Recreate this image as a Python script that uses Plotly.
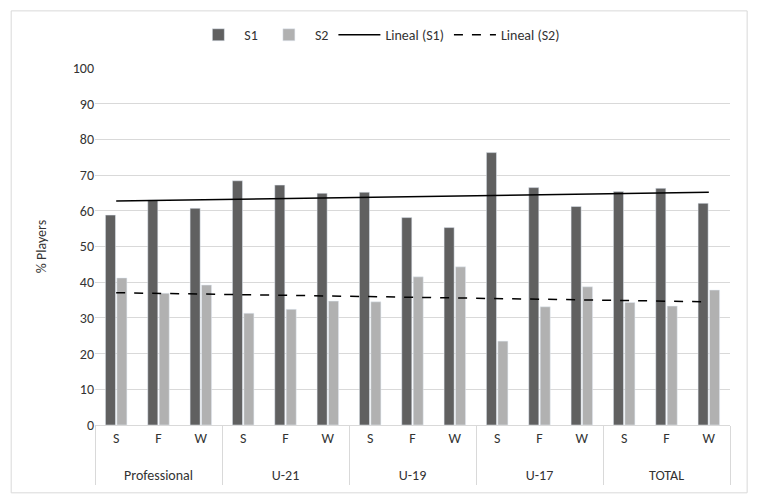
import numpy as np
import plotly.graph_objects as go

groups = ["Professional", "U-21", "U-19", "U-17", "TOTAL"]
subcats = ["S", "F", "W"]
s1 = [58.8, 63.0, 60.7, 68.4, 67.2, 64.9, 65.2, 58.1, 55.3, 76.3, 66.5, 61.2, 65.4, 66.3, 62.1]
s2 = [41.2, 36.9, 39.2, 31.3, 32.4, 34.7, 34.5, 41.5, 44.3, 23.5, 33.1, 38.7, 34.3, 33.3, 37.8]

# group labels pushed one line lower to mimic the spacing of the original
xg = ["<br>" + g for g in groups for _ in subcats]
xs = [s for _ in groups for s in subcats]
x = [xg, xs]

idx = np.arange(1, len(s1) + 1)
c1 = np.polyfit(idx, s1, 1)
c2 = np.polyfit(idx, s2, 1)
t1 = np.polyval(c1, idx)
t2 = np.polyval(c2, idx)

font = "Carlito, 'Liberation Sans Narrow', 'Open Sans', sans-serif"
txt = "#333333"

fig = go.Figure()
fig.add_trace(go.Bar(x=x, y=s1, name="S1", marker_color="#606060"))
fig.add_trace(go.Bar(x=x, y=s2, name="S2", marker_color="#b1b1b1"))
fig.add_trace(go.Scatter(x=x, y=t1, name="Lineal (S1)", mode="lines",
                         line=dict(color="#000000", width=1.5)))
fig.add_trace(go.Scatter(x=x, y=t2, name="Lineal (S2)", mode="lines",
                         line=dict(color="#000000", width=1.5, dash="dash")))

fig.update_layout(
    width=759, height=504,
    margin=dict(l=87, r=37, t=60, b=87, autoexpand=False),
    paper_bgcolor="white", plot_bgcolor="white",
    font=dict(family=font, size=14, color=txt),
    barmode="group", bargap=0.46, bargroupgap=0.12,
    showlegend=True,
    legend=dict(orientation="h", x=0.447, xanchor="center", y=1.092, yanchor="middle",
                font=dict(size=14, color=txt), traceorder="normal", itemwidth=42),
    yaxis=dict(range=[0, 100], dtick=10, showgrid=True, gridcolor="#d9d9d9",
               gridwidth=1, zeroline=False, showline=False, ticks="",
               automargin=False,
               title=dict(text="% Players", font=dict(size=14, color=txt), standoff=22),
               tickfont=dict(size=14, color=txt)),
    xaxis=dict(type="multicategory", showline=True, linecolor="#d9d9d9",
               showdividers=True, dividercolor="#d9d9d9", dividerwidth=1,
               automargin=False,
               ticks="", tickfont=dict(size=14, color=txt)),
    shapes=[dict(type="rect", xref="paper", yref="paper",
                 x0=-0.132, x1=1.027, y0=-0.190, y1=1.160,
                 line=dict(color="#d9d9d9", width=1), layer="below")],
)

fig.write_html("out.html")
